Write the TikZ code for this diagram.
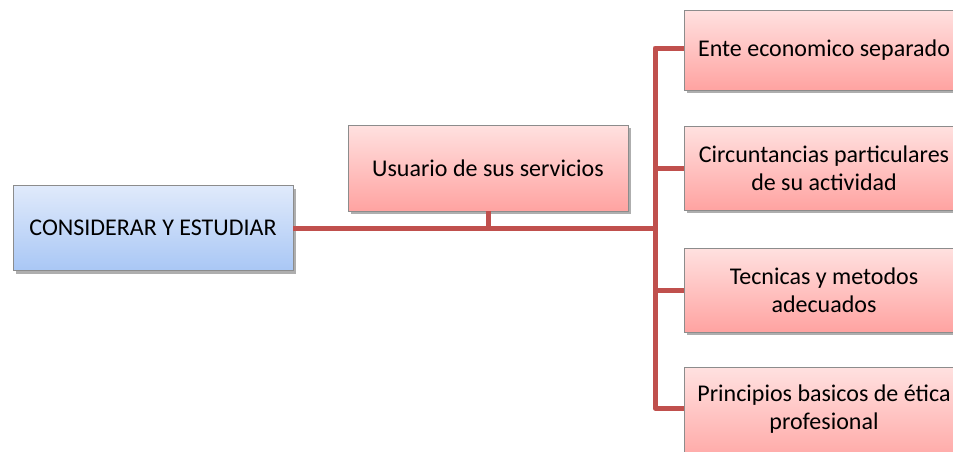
\documentclass[tikz,border=0pt]{standalone}
\usepackage{fontspec}
\setmainfont{Carlito}
\usetikzlibrary{shadows}
\definecolor{linkred}{HTML}{C0504D}
\definecolor{bluetop}{HTML}{E0EAFB}
\definecolor{bluebot}{HTML}{A9C7F5}
\definecolor{redtop}{HTML}{FFE1E0}
\definecolor{redbot}{HTML}{FFA3A1}
\definecolor{boxline}{HTML}{8C8C8C}
\tikzset{
  boxtext/.style={align=center, font=\fontsize{24}{28}\selectfont, inner sep=2pt},
  box/.style={boxtext, draw=boxline, line width=0.8pt, minimum width=280pt, minimum height=84pt,
    drop shadow={shadow xshift=2.5pt, shadow yshift=-3pt, opacity=0.45, fill=black!70}},
  bluebox/.style={box, top color=bluetop, bottom color=bluebot},
  redbox/.style={box, top color=redtop, bottom color=redbot},
  cutbox/.style={redbox, anchor=west, minimum width=340pt},
  link/.style={draw=linkred, line width=5pt, line join=round}
}
\begin{document}
\begin{tikzpicture}[x=1pt,y=-1pt]
\useasboundingbox (0,0) rectangle (953,451);
\clip (0,0) rectangle (953,451);
\fill[white] (0,0) rectangle (953,451);
\node[bluebox, minimum height=85pt] (cons) at (153,228) {CONSIDERAR Y ESTUDIAR};
\node[redbox, minimum height=86pt] (usr) at (488,168) {Usuario de sus servicios};
\node[cutbox, minimum height=80pt] (b1) at (684,50) {};
\node[boxtext] (t1) at (824,50) {Ente economico separado};
\node[cutbox] (b2) at (684,168) {};
\node[boxtext] (t2) at (824,168) {Circuntancias particulares\\de su actividad};
\node[cutbox] (b3) at (684,290) {};
\node[boxtext] (t3) at (824,290) {Tecnicas y metodos\\adecuados};
\node[cutbox, anchor=north west, minimum height=100pt] (b4) at (684,367) {};
\node[boxtext] (t4) at (824,409) {Principios basicos de ética\\profesional};
\coordinate (hub) at (655,228);
\draw[link] (usr.south) -- (usr.south |- hub);
\draw[link] (cons.east) -- (hub);
\draw[link] (b1.west |- 0,48) -- (hub |- 0,48) -- (hub |- 0,408) -- (b4.west |- 0,408);
\draw[link] (b2.west) -- (hub |- b2.west);
\draw[link] (b3.west) -- (hub |- b3.west);
\end{tikzpicture}
\end{document}
